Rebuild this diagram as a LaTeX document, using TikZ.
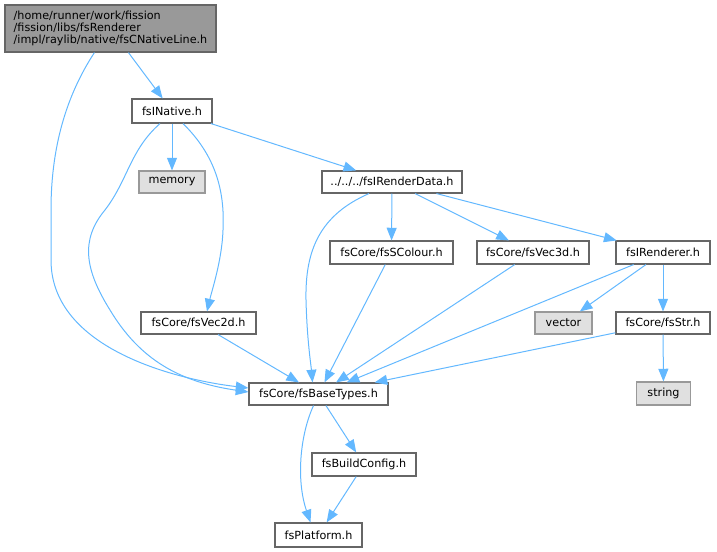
\documentclass[tikz,border=0pt]{standalone}
\usepackage{fontspec}
\setmainfont{DejaVu Sans}
\usetikzlibrary{arrows.meta,calc}
\definecolor{edgec}{HTML}{63B8FF}
\definecolor{bord}{HTML}{666666}
\definecolor{sysbord}{HTML}{999999}
\definecolor{sysfill}{HTML}{E0E0E0}
\definecolor{topfill}{HTML}{999999}
\begin{document}
\begin{tikzpicture}[x=0.75pt,y=-0.75pt,
  box/.style={draw=bord,fill=white,line width=0.85pt,inner sep=0pt,text=black,
    font=\fontsize{8.4}{9}\selectfont},
  sysbox/.style={box,draw=sysbord,fill=sysfill},
  wh/.style 2 args={minimum width=#1*0.75pt,minimum height=#2*0.75pt},
  dep/.style={draw=edgec,line width=0.75pt,-{Triangle[length=9.5pt,width=7.5pt]}}
]
\useasboundingbox (0,0) rectangle (717,552);

\node[box,fill=topfill,wh={211}{47},align=left] (top) at (110.5,28.5)
  {/home/runner/work/fission\\/fission/libs/fsRenderer\\/impl/raylib/native/fsCNativeLine.h};
\node[box,wh={80}{24}] (nat) at (172,111) {fsINative.h};
\node[sysbox,wh={66}{22}] (mem) at (172,182) {memory};
\node[box,wh={140}{22}] (rd) at (392,182) {../../../fsIRenderData.h};
\node[box,wh={123}{23}] (sc) at (391.5,252.5) {fsCore/fsSColour.h};
\node[box,wh={112}{23}] (v3) at (533,252.5) {fsCore/fsVec3d.h};
\node[box,wh={94}{23}] (ren) at (663,252.5) {fsIRenderer.h};
\node[sysbox,wh={57}{22}] (vec) at (563.5,323) {vector};
\node[box,wh={94}{22}] (str) at (663,323) {fsCore/fsStr.h};
\node[box,wh={115}{22}] (v2) at (198.5,323) {fsCore/fsVec2d.h};
\node[box,wh={139}{22}] (bt) at (318.5,394) {fsCore/fsBaseTypes.h};
\node[sysbox,wh={54}{23}] (strg) at (663.5,393.5) {string};
\node[box,wh={104}{23}] (bc) at (364,464.5) {fsBuildConfig.h};
\node[box,wh={87}{24}] (pl) at (318.5,535) {fsPlatform.h};

% edges
\draw[dep] (top) -- (nat);
\draw[dep] ($(top.south west)+(90,0)$) .. controls (70,90) and (51,140) .. (51,210)
  -- (51,260) .. controls (51,350) and (180,380) .. ($(bt.west)+(0,-6)$);
\draw[dep] ($(nat.south)+(-12,0)$) .. controls (130,150) and (128,180) .. (105,210)
  .. controls (80,240) and (85,270) .. (110,310)
  .. controls (140,360) and (180,382) .. ($(bt.west)+(0,-2)$);
\draw[dep] (nat) -- (mem);
\draw[dep] ($(nat.south)+(11,0)$) .. controls (215,155) and (225,190) .. (223,230)
  .. controls (222,260) and (212,290) .. ($(v2.north)+(8.5,0)$);
\draw[dep] (nat) -- (rd);
\draw[dep] ($(rd.south)+(-23,0)$) .. controls (320,215) and (305,250) .. (306,300)
  .. controls (307,340) and (311,365) .. ($(bt.north)+(-6,0)$);
\draw[dep] (rd) -- (sc);
\draw[dep] (rd) -- (v3);
\draw[dep] (rd) -- (ren);
\draw[dep] (sc) -- (bt);
\draw[dep] (v3) -- (bt);
\draw[dep] (ren) -- (bt);
\draw[dep] (ren) -- (vec);
\draw[dep] (ren) -- (str);
\draw[dep] (str) -- (bt);
\draw[dep] (str) -- (strg);
\draw[dep] (v2) -- (bt);
\draw[dep] (bt) -- (bc);
\draw[dep] ($(bt.south)+(-5,0)$) .. controls (300,435) and (296,480) .. ($(pl.north)+(-8,0)$);
\draw[dep] (bc) -- (pl);
\end{tikzpicture}
\end{document}
